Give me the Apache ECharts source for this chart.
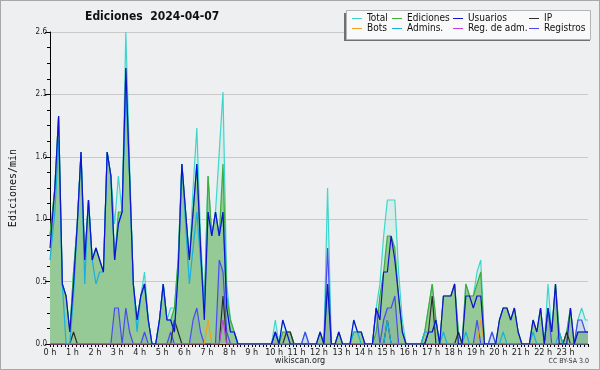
<!DOCTYPE html>
<html><head><meta charset="utf-8">
<script src="https://cdn.jsdelivr.net/npm/echarts@6/dist/echarts.min.js"></script>
<style>
html,body{margin:0;padding:0;background:#eeeff0;}
#wrap{position:relative;width:600px;height:370px;background:#eeeff0;}
#chart{position:absolute;left:0;top:0;width:600px;height:370px;}
#frame{position:absolute;left:0;top:0;width:600px;height:370px;box-sizing:border-box;border:1px solid #a8a8a8;pointer-events:none;}
</style></head>
<body><div id="wrap"><div id="chart"></div><div id="frame"></div></div>
<script>
// 10-minute buckets, 144 per day (values in edits/min)
const hourLabels = ['0 h','1 h','2 h','3 h','4 h','5 h','6 h','7 h','8 h','9 h','10 h','11 h','12 h','13 h','14 h','15 h','16 h','17 h','18 h','19 h','20 h','21 h','22 h','23 h'];
const yTicks = [0, 0.52, 1.04, 1.56, 2.08, 2.6];

const total = [
 .9,1.3,1.9,.5,.4,.1,.6,1.0,1.6,.7,1.2,.7,
 .8,.7,.6,1.6,1.4,1.0,1.4,1.1,2.6,1.5,.5,.2,
 .4,.6,.2,0,0,.2,.5,.2,.3,.3,.7,1.5,
 1.1,.7,1.3,1.8,.9,.3,1.4,.9,1.1,1.6,2.1,.5,
 .2,.1,0,0,0,0,0,0,0,0,0,0,
 .2,0,.2,.1,.1,0,0,0,.1,0,0,0,
 .1,0,1.3,0,0,.1,0,0,0,.2,.1,.1,
 0,0,0,.3,.5,.9,1.2,1.2,1.2,.6,.2,0,
 0,0,0,0,.1,.3,.5,.2,0,.4,.4,.4,
 .5,.1,0,.5,.4,.4,.6,.7,0,0,.1,0,
 .2,.3,.3,.2,.3,.1,0,0,0,.2,.1,.3,
 0,.5,.1,.5,.1,0,.1,.3,0,.2,.3,.2
];
const ediciones = [
 .9,1.3,1.9,.5,.4,.1,.6,1.0,1.6,.7,1.2,.7,
 .8,.7,.6,1.6,1.4,.7,1.1,1.1,2.3,1.4,.5,.2,
 .4,.5,.2,0,0,.2,.5,.2,.2,.3,.7,1.5,
 1.1,.7,1.1,1.5,.8,.3,1.4,.9,1.1,.9,1.5,.4,
 .2,.1,0,0,0,0,0,0,0,0,0,0,
 .1,0,.1,.1,.1,0,0,0,0,0,0,0,
 .1,0,.5,0,0,.1,0,0,0,.1,.1,.1,
 0,0,0,.1,.4,.6,.9,.9,.8,.4,.1,0,
 0,0,0,0,.1,.3,.5,.2,0,.4,.4,.4,
 .5,.1,0,.5,.4,.4,.5,.6,0,0,0,0,
 .2,.3,.3,.2,.3,.1,0,0,0,.2,.1,.3,
 0,.3,.1,.5,.1,0,.1,.3,0,.1,.1,.1
];
const usuarios = [
 .8,1.3,1.9,.5,.4,.1,.5,1.0,1.6,.7,1.2,.7,
 .8,.7,.6,1.6,1.4,.7,1.0,1.1,2.3,1.4,.5,.2,
 .4,.5,.2,0,0,.2,.5,.2,.2,.1,.6,1.5,
 1.1,.7,1.1,1.5,.8,.2,1.1,.9,1.1,.9,1.1,.3,
 .1,.1,0,0,0,0,0,0,0,0,0,0,
 .1,0,.2,.1,0,0,0,0,0,0,0,0,
 .1,0,.5,0,0,.1,0,0,0,.2,.1,.1,
 0,0,0,.3,.2,.6,.6,.9,.7,.4,.1,0,
 0,0,0,0,0,.1,.1,.2,0,.4,.4,.4,
 .5,0,0,.4,.4,.3,.4,.4,0,0,0,0,
 .2,.3,.3,.2,.3,.1,0,0,0,.2,.1,.3,
 0,.3,.1,.5,0,0,0,.3,0,.1,.1,.1
];
const ip = [
 0,0,0,0,0,0,.1,0,0,0,0,0,
 0,0,0,0,0,0,0,0,0,0,0,0,
 0,0,0,0,0,0,0,0,0,.2,.1,0,
 0,0,0,0,0,0,0,0,0,0,.4,0,
 0,0,0,0,0,0,0,0,0,0,0,0,
 0,0,0,.1,.1,0,0,0,0,0,0,0,
 0,0,0,0,0,0,0,0,0,0,0,0,
 0,0,0,0,0,0,.2,0,0,0,0,0,
 0,0,0,0,0,.1,.4,0,0,0,0,0,
 0,.1,0,0,0,0,0,0,0,0,0,0,
 0,0,0,0,0,0,0,0,0,0,0,0,
 0,0,0,0,0,0,.1,0,0,0,0,0
];
const bots = [
 0,0,0,0,0,0,0,0,0,0,0,0,
 0,0,0,0,0,0,0,0,0,0,0,0,
 0,0,0,0,0,0,0,0,0,0,0,0,
 0,0,0,0,0,0,.2,0,0,0,0,0,
 0,0,0,0,0,0,0,0,0,0,0,0,
 0,0,0,0,0,0,0,0,0,0,0,0,
 0,0,0,0,0,0,0,0,0,0,0,0,
 0,0,0,0,0,0,0,0,0,0,0,0,
 0,0,0,0,0,0,0,0,0,0,0,0,
 0,0,0,0,0,0,0,.2,0,0,0,0,
 0,0,0,0,0,0,0,0,0,0,0,0,
 0,0,0,0,0,0,0,0,0,0,0,0
];
const admins = [
 .7,1.1,1.7,.5,0,0,.4,1.0,1.6,.5,1.2,.7,
 .5,.6,.6,1.6,1.4,.7,1.0,1.1,2.1,1.4,.5,.1,
 .4,.5,.2,0,0,.2,.5,.2,.2,.1,.6,1.5,
 1.0,.5,.8,1.1,.7,.3,1.1,.9,1.1,.9,1.1,.3,
 .1,.1,0,0,0,0,0,0,0,0,0,0,
 0,0,0,0,0,0,0,0,0,0,0,0,
 0,0,0,0,0,0,0,0,0,.1,.1,0,
 0,0,0,0,0,0,.2,0,0,0,0,0,
 0,0,0,0,.1,.1,.1,.2,0,.1,0,0,
 0,0,0,.1,0,0,0,0,0,0,0,0,
 0,.1,0,0,0,0,0,0,0,.1,0,0,
 0,0,0,0,.1,0,0,0,0,0,0,0
];
const regAdm = [
 0,0,0,0,0,0,0,0,0,0,0,0,
 0,0,0,0,0,0,0,0,0,0,0,0,
 0,0,0,0,0,0,0,0,0,0,0,0,
 0,0,0,0,0,0,0,0,0,0,.2,0,
 0,0,0,0,0,0,0,0,0,0,0,0,
 0,0,0,0,0,0,0,0,0,0,0,0,
 0,0,0,0,0,0,0,0,0,0,0,0,
 0,0,0,0,0,0,0,0,0,0,0,0,
 0,0,0,0,0,0,0,0,0,0,0,0,
 0,0,0,0,0,0,0,0,0,0,0,0,
 0,0,0,0,0,0,0,0,0,0,0,0,
 0,0,0,0,0,0,0,0,0,0,0,0
];
const registros = [
 0,0,0,0,0,0,0,0,0,0,0,0,
 0,0,0,0,0,.3,.3,0,.3,.1,0,0,
 0,.1,0,0,0,0,0,0,.1,0,0,0,
 0,0,.2,.3,.1,0,0,0,0,.7,.6,.1,
 0,0,0,0,0,0,0,0,0,0,0,0,
 .1,0,0,0,0,0,0,0,.1,0,0,0,
 0,0,.8,0,0,0,0,0,0,0,0,0,
 0,0,0,.3,0,.2,.3,.3,.4,0,0,0,
 0,0,0,0,0,0,0,0,0,0,0,0,
 0,0,0,0,0,0,.2,0,0,0,.1,0,
 0,0,0,0,0,0,0,0,0,0,0,0,
 0,.3,0,0,0,0,0,0,0,.2,.2,.1
];

const STEP = 10, OFF = 3; // minutes
function pts(arr){
  const d = [[0, arr[0]]];
  arr.forEach((v,i)=>d.push([i*STEP+OFF, v]));
  d.push([1440, arr[arr.length-1]]);
  return d;
}
const FONT = '"DejaVu Sans Condensed","DejaVu Sans",sans-serif';
function ser(name, arr, color, extra){
  return Object.assign({
    name, type:'line', data: pts(arr), showSymbol:false, symbol:'none',
    lineStyle:{color, width:1.2}, itemStyle:{color}, silent:true, animation:false
  }, extra||{});
}
const chart = echarts.init(document.getElementById('chart'), null, {renderer:'canvas'});
const legBase = {orient:'vertical', top:13.5, itemWidth:10, itemHeight:1, itemGap:0, icon:'rect',
  textStyle:{fontFamily:FONT, fontSize:10, color:'#111', lineHeight:10, padding:0}, padding:0, selectedMode:false, z:10};
chart.setOption({
  backgroundColor:'#eeeff0',
  animation:false,
  title:{text:'Ediciones  2024-04-07', left:85, top:11, padding:0, textStyle:{fontFamily:FONT, fontSize:12, fontWeight:'bold', color:'#111'}},
  legend:[
    Object.assign({left:352, data:['Total','Bots']}, legBase),
    Object.assign({left:392, data:['Ediciones','Admins.']}, legBase),
    Object.assign({left:453, data:['Usuarios','Reg. de adm.']}, legBase),
    Object.assign({left:529, data:['IP','Registros']}, legBase)
  ],
  graphic:[
    {type:'rect', z:1, shape:{x:344, y:13, width:246, height:28}, style:{fill:'#707070'}},
    {type:'rect', z:2, shape:{x:346.5, y:10.5, width:244, height:29}, style:{fill:'#f9f9f9', stroke:'#b4b4b4', lineWidth:1}},
    {type:'text', z:5, left:'center', top:356, style:{text:'wikiscan.org', font:'9px '+FONT, fill:'#222'}},
    {type:'text', z:5, right:11, top:358, style:{text:'CC BY-SA 3.0', font:'7px '+FONT, fill:'#333'}}
  ],
  grid:{left:46, right:12, top:32, bottom:26, containLabel:false},
  xAxis:{type:'value', min:0, max:1440, interval:60,
    axisLine:{lineStyle:{color:'#000', width:1}},
    axisTick:{show:true, length:3, lineStyle:{color:'#000'}},
    minorTick:{show:true, splitNumber:6, length:3, lineStyle:{color:'#000'}},
    splitLine:{show:false},
    axisLabel:{margin:4, fontFamily:FONT, fontSize:9, color:'#222',
      formatter:v=>{const h=Math.round(v/60); return h<24?hourLabels[h]:'';}}
  },
  yAxis:{type:'value', min:yTicks[0], max:yTicks[yTicks.length-1], interval:yTicks[1],
    name:'Ediciones/min', nameLocation:'middle', nameGap:32, nameRotate:90,
    nameTextStyle:{fontFamily:'"DejaVu Sans Mono",monospace', fontSize:10, color:'#111'},
    axisLine:{show:true, lineStyle:{color:'#000', width:1}},
    axisTick:{show:true, length:5, lineStyle:{color:'#000'}},
    minorTick:{show:true, splitNumber:4, length:3, lineStyle:{color:'#000'}},
    splitLine:{show:true, lineStyle:{color:'#c9c9c9', width:1}},
    axisLabel:{margin:3, fontFamily:FONT, fontSize:8, color:'#222', formatter:v=>v.toFixed(1)}
  },
  series:[
    ser('Total', total, '#3ed6cc', {areaStyle:{color:'rgba(150,230,215,0.35)'}, z:2}),
    ser('Ediciones', ediciones, '#3cac3c', {areaStyle:{color:'#95c995', opacity:1}, z:3}),
    ser('Registros', registros, '#4a4af0', {areaStyle:{color:'rgba(70,70,220,0.14)'}, z:4}),
    ser('IP', ip, '#2e2e2e', {z:5}),
    ser('Bots', bots, '#f0a020', {z:5}),
    ser('Reg. de adm.', regAdm, '#c040e0', {z:5}),
    ser('Admins.', admins, '#18b0e0', {z:6}),
    ser('Usuarios', usuarios, '#1010d0', {z:7})
  ]
});
</script></body></html>
